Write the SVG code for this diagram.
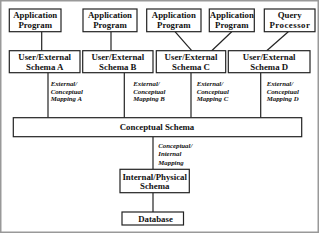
<svg xmlns="http://www.w3.org/2000/svg" width="320" height="234" viewBox="0 0 320 234">
<style>
.box{fill:#fff;stroke:#222;stroke-width:1.2}
.t{font-family:"Liberation Serif","Times New Roman",serif;font-weight:bold;font-size:8.8px;fill:#111;text-anchor:middle}
.l{font-family:"Liberation Serif","Times New Roman",serif;font-weight:bold;font-style:italic;font-size:6.8px;fill:#111}
.c{stroke:#222;stroke-width:1.2;fill:none}
</style>
<rect x="0.75" y="0.75" width="317.5" height="231.5" fill="#fff" stroke="#999" stroke-width="1.5"/>
<g id="connectors">
<line class="c" x1="41.7" y1="31.7" x2="41.7" y2="50.7"/>
<line class="c" x1="111" y1="31.7" x2="111" y2="50.7"/>
<line class="c" x1="175" y1="31.7" x2="191.7" y2="50.7"/>
<line class="c" x1="231.7" y1="31.7" x2="211.7" y2="50.7"/>
<line class="c" x1="288.3" y1="31.7" x2="266.7" y2="50.7"/>
<line class="c" x1="48" y1="72.7" x2="48" y2="117.7"/>
<line class="c" x1="124.3" y1="72.7" x2="124.3" y2="117.7"/>
<line class="c" x1="191" y1="72.7" x2="191" y2="117.7"/>
<line class="c" x1="260.7" y1="72.7" x2="260.7" y2="117.7"/>
<line class="c" x1="153" y1="136.7" x2="153" y2="169.3"/>
<line class="c" x1="153" y1="192.7" x2="153" y2="212"/>
</g>
<g id="app1"><rect class="box" x="9.3" y="9" width="51.7" height="22.7"/><text class="t" x="35.2" y="18.3">Application</text><text class="t" x="35.2" y="28">Program</text></g>
<g id="app2"><rect class="box" x="83" y="9" width="54" height="22.7"/><text class="t" x="110" y="18.3">Application</text><text class="t" x="110" y="28">Program</text></g>
<g id="app3"><rect class="box" x="146.7" y="9" width="54.3" height="22.7"/><text class="t" x="173.8" y="18.3">Application</text><text class="t" x="173.8" y="28">Program</text></g>
<g id="app4"><rect class="box" x="209.3" y="9" width="45" height="22.7"/><text class="t" x="231.8" y="18.3">Application</text><text class="t" x="231.8" y="28">Program</text></g>
<g id="query"><rect class="box" x="264.3" y="9" width="50.7" height="22.7"/><text class="t" x="289.7" y="18.3">Query</text><text class="t" x="289.9" y="28" letter-spacing="0.5">Processor</text></g>
<g id="schemaA"><rect class="box" x="9.3" y="50.7" width="70.7" height="22"/><text class="t" x="44.7" y="60.2">User/External</text><text class="t" x="44.7" y="70">Schema A</text></g>
<g id="schemaB"><rect class="box" x="82.7" y="50.7" width="70.3" height="22"/><text class="t" x="117.8" y="60.2">User/External</text><text class="t" x="117.8" y="70">Schema B</text></g>
<g id="schemaC"><rect class="box" x="156.3" y="50.7" width="69.4" height="22"/><text class="t" x="191" y="60.2">User/External</text><text class="t" x="191" y="70">Schema C</text></g>
<g id="schemaD"><rect class="box" x="228.3" y="50.7" width="81.7" height="22"/><text class="t" x="269.2" y="60.2">User/External</text><text class="t" x="269.2" y="70">Schema D</text></g>
<g id="mapA"><text class="l" x="50.7" y="86">External/</text><text class="l" x="50.7" y="93.5">Conceptual</text><text class="l" x="50.7" y="101">Mapping A</text></g>
<g id="mapB"><text class="l" x="133.3" y="86">External/</text><text class="l" x="133.3" y="93.5">Conceptual</text><text class="l" x="133.3" y="101">Mapping B</text></g>
<g id="mapC"><text class="l" x="196.7" y="86">External/</text><text class="l" x="196.7" y="93.5">Conceptual</text><text class="l" x="196.7" y="101">Mapping C</text></g>
<g id="mapD"><text class="l" x="266.7" y="86">External/</text><text class="l" x="266.7" y="93.5">Conceptual</text><text class="l" x="266.7" y="101">Mapping D</text></g>
<g id="conceptual"><rect class="box" x="13.3" y="117.7" width="288.4" height="19"/><text class="t" x="157" y="130.3">Conceptual Schema</text></g>
<g id="mapInt"><text class="l" x="158.3" y="148.3">Conceptual/</text><text class="l" x="158.3" y="156.3">Internal</text><text class="l" x="158.3" y="164.8">Mapping</text></g>
<g id="internal"><rect class="box" x="120" y="169.3" width="69.3" height="23.4"/><text class="t" x="154.7" y="179.5">Internal/Physical</text><text class="t" x="154.7" y="189">Schema</text></g>
<g id="database"><rect class="box" x="122" y="212" width="61.5" height="13"/><text class="t" x="155.5" y="221.6">Database</text></g>
</svg>
